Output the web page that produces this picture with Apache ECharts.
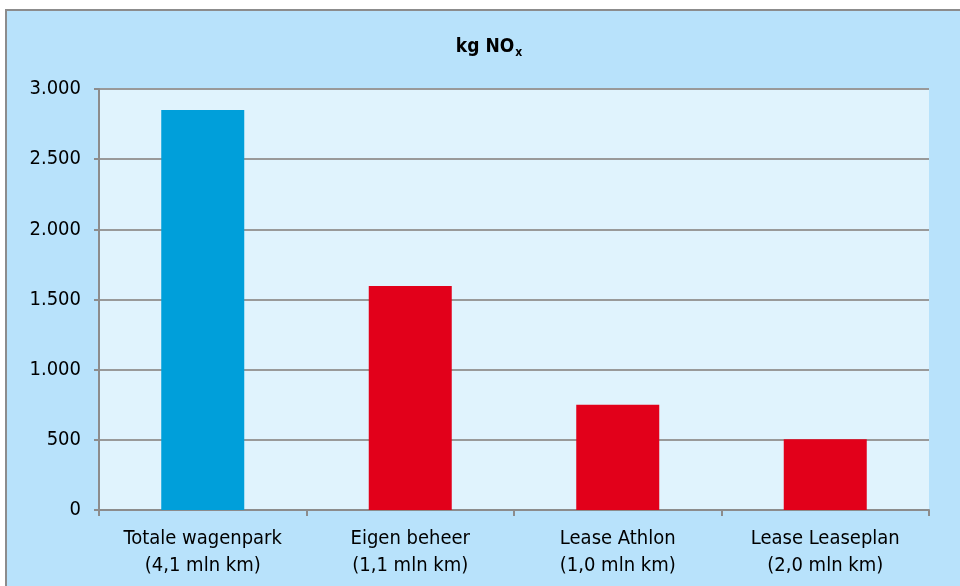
<!DOCTYPE html>
<html>
<head>
<meta charset="utf-8">
<script src="https://cdn.jsdelivr.net/npm/echarts@6/dist/echarts.min.js"></script>
<style>
html,body{margin:0;padding:0;background:#ffffff;}
#chart{width:960px;height:586px;}
</style>
</head>
<body>
<div id="chart"></div>
<script>
const categories = ['Totale wagenpark\n(4,1 mln km)', 'Eigen beheer\n(1,1 mln km)', 'Lease Athlon\n(1,0 mln km)', 'Lease Leaseplan\n(2,0 mln km)'];
const values = [2850, 1597, 750, 505];
const barColors = ['#009fda', '#e2001a', '#e2001a', '#e2001a'];
const yTicks = [0, 500, 1000, 1500, 2000, 2500, 3000];

const chart = echarts.init(document.getElementById('chart'), null, {renderer: 'canvas'});
const font = 'DejaVu Sans Condensed';
function fmt(v) {
  return String(v).replace(/\B(?=(\d{3})+(?!\d))/g, '.');
}
chart.setOption({
  backgroundColor: '#ffffff',
  animation: false,
  graphic: [{
    type: 'rect', z: -10, silent: true,
    shape: {x: 6, y: 10, width: 980, height: 600},
    style: {fill: '#b8e2fb', stroke: '#8c8c8c', lineWidth: 2}
  }],
  title: {
    text: '{a|kg NO}{b|x}',
    left: 484, top: 31, textAlign: 'center',
    textStyle: {
      rich: {
        a: {fontFamily: font, fontSize: 19, fontWeight: 'bold', color: '#000'},
        b: {fontFamily: font, fontSize: 12, fontWeight: 'bold', color: '#000', padding: [11, 0, 0, 1]}
      }
    }
  },
  grid: {left: 99, right: 31, top: 89, bottom: 76, show: true, backgroundColor: '#e0f3fd', borderWidth: 0},
  xAxis: {
    type: 'category',
    data: categories,
    axisLine: {lineStyle: {color: '#8c8c8c', width: 2}},
    axisTick: {show: true, length: 6, alignWithLabel: false, lineStyle: {color: '#8c8c8c', width: 2}},
    axisLabel: {fontFamily: font, fontSize: 20, color: '#000', lineHeight: 27, margin: 15, interval: 0}
  },
  yAxis: {
    type: 'value',
    min: yTicks[0], max: yTicks[yTicks.length - 1], interval: 500,
    axisLine: {show: true, lineStyle: {color: '#8c8c8c', width: 2}},
    axisTick: {show: true, length: 5, lineStyle: {color: '#8c8c8c', width: 2}},
    axisLabel: {fontFamily: font, fontSize: 20, color: '#000', margin: 18, formatter: fmt},
    splitLine: {show: true, lineStyle: {color: '#999999', width: 2}}
  },
  series: [{
    type: 'bar',
    data: values.map((v, i) => ({value: v, itemStyle: {color: barColors[i]}})),
    barWidth: '40%'
  }]
});
</script>
</body>
</html>
